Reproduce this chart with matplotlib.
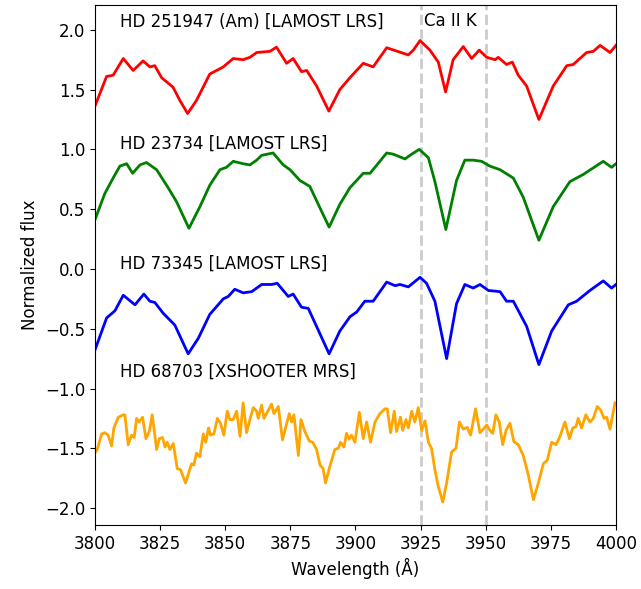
import numpy as np
import matplotlib
matplotlib.use("Agg")
import matplotlib.pyplot as plt

# spectra (already offset vertically)
wl_red = [3800.0, 3804.5, 3807.0, 3810.9, 3814.7, 3818.5, 3821.1, 3823.0, 3825.6, 3830.0,
          3832.6, 3835.6, 3839.0, 3844.1, 3849.3, 3853.1, 3856.9, 3859.5, 3862.1, 3867.2,
          3869.7, 3873.6, 3876.1, 3879.3, 3881.3, 3885.1, 3889.8, 3894.0, 3897.9, 3903.0,
          3906.8, 3912.0, 3920.3, 3922.2, 3924.8, 3928.6, 3931.8, 3934.6, 3937.5, 3941.4,
          3944.6, 3947.5, 3950.4, 3953.6, 3954.8, 3958.0, 3960.2, 3962.5, 3965.7, 3970.4,
          3975.9, 3981.1, 3983.6, 3988.7, 3991.3, 3993.9, 3997.7, 4000.0]
fl_red = [1.36, 1.61, 1.62, 1.76, 1.66, 1.74, 1.69, 1.70, 1.60, 1.52,
          1.41, 1.30, 1.41, 1.63, 1.69, 1.76, 1.75, 1.77, 1.81, 1.82,
          1.855, 1.72, 1.76, 1.65, 1.66, 1.53, 1.32, 1.50, 1.60, 1.72,
          1.69, 1.85, 1.79, 1.83, 1.91, 1.83, 1.73, 1.48, 1.75, 1.86,
          1.76, 1.83, 1.77, 1.75, 1.77, 1.71, 1.73, 1.62, 1.53, 1.25,
          1.53, 1.70, 1.71, 1.81, 1.82, 1.87, 1.81, 1.87]

wl_green = [3800.0, 3803.8, 3807.0, 3809.6, 3812.2, 3814.5, 3817.3, 3819.8, 3823.7, 3828.1,
            3831.4, 3836.1, 3840.3, 3844.1, 3848.0, 3850.5, 3853.1, 3856.9, 3859.5, 3862.1,
            3864.0, 3868.4, 3872.3, 3874.9, 3878.7, 3882.5, 3886.4, 3889.9, 3894.0, 3897.9,
            3903.0, 3905.6, 3912.0, 3914.5, 3919.0, 3921.6, 3924.5, 3928.0, 3930.5, 3934.7,
            3938.8, 3942.0, 3945.2, 3948.4, 3951.6, 3955.5, 3960.6, 3964.4, 3970.4, 3975.9,
            3982.3, 3987.4, 3995.1, 3998.3, 4000.0]
fl_green = [0.41, 0.63, 0.76, 0.86, 0.88, 0.80, 0.87, 0.89, 0.83, 0.68,
            0.56, 0.34, 0.52, 0.70, 0.83, 0.85, 0.90, 0.88, 0.87, 0.91,
            0.95, 0.97, 0.87, 0.83, 0.74, 0.69, 0.51, 0.35, 0.54, 0.68,
            0.80, 0.80, 0.97, 0.96, 0.92, 0.96, 1.00, 0.93, 0.73, 0.33,
            0.74, 0.91, 0.91, 0.90, 0.86, 0.83, 0.76, 0.60, 0.24, 0.52,
            0.73, 0.79, 0.90, 0.85, 0.88]

wl_blue = [3800.0, 3804.5, 3807.7, 3810.9, 3815.4, 3818.8, 3821.1, 3823.0, 3826.2, 3830.7,
           3835.8, 3839.7, 3844.1, 3849.3, 3851.2, 3853.7, 3856.9, 3860.2, 3864.0, 3867.8,
           3870.0, 3874.2, 3876.1, 3879.3, 3881.9, 3885.7, 3889.9, 3894.0, 3897.9, 3900.5,
           3903.6, 3906.8, 3912.0, 3915.2, 3917.1, 3920.3, 3924.8, 3927.3, 3930.5, 3935.0,
           3938.8, 3942.0, 3945.2, 3947.8, 3951.0, 3955.5, 3958.0, 3960.6, 3965.7, 3970.4,
           3975.3, 3981.7, 3984.9, 3990.0, 3995.1, 3998.3, 4000.0]
fl_blue = [-0.68, -0.41, -0.35, -0.22, -0.30, -0.21, -0.27, -0.28, -0.37, -0.47,
           -0.71, -0.58, -0.38, -0.25, -0.23, -0.17, -0.20, -0.19, -0.13, -0.13,
           -0.12, -0.23, -0.21, -0.32, -0.33, -0.51, -0.71, -0.52, -0.40, -0.36,
           -0.27, -0.27, -0.11, -0.14, -0.13, -0.15, -0.07, -0.12, -0.27, -0.75,
           -0.29, -0.13, -0.16, -0.13, -0.18, -0.19, -0.27, -0.27, -0.48, -0.80,
           -0.52, -0.30, -0.27, -0.18, -0.10, -0.16, -0.13]

wl_orange = [3800.0, 3800.9, 3802.6, 3803.8, 3805.1, 3806.4, 3807.3, 3809.0, 3810.9, 3811.5,
             3812.8, 3814.1, 3815.1, 3816.0, 3817.0, 3818.3, 3819.6, 3820.9, 3822.0, 3823.7,
             3824.7, 3826.0, 3826.9, 3827.8, 3828.8, 3830.1, 3831.6, 3832.9, 3834.8, 3835.8,
             3837.1, 3838.0, 3839.0, 3840.3, 3841.6, 3842.6, 3843.6, 3844.4, 3845.7, 3847.0,
             3848.2, 3849.5, 3850.8, 3851.8, 3853.1, 3854.4, 3855.7, 3856.9, 3858.2, 3859.5,
             3860.8, 3862.1, 3862.7, 3864.0, 3864.9, 3865.9, 3867.8, 3868.7, 3870.4, 3872.0,
             3874.6, 3875.5, 3876.4, 3878.1, 3879.1, 3880.6, 3882.3, 3883.6, 3885.1, 3886.4,
             3887.6, 3888.5, 3890.2, 3892.1, 3893.4, 3894.3, 3895.6, 3896.6, 3897.6, 3898.5,
             3899.8, 3901.5, 3903.0, 3904.3, 3905.8, 3907.5, 3909.4, 3911.3, 3912.2, 3913.5,
             3914.9, 3915.8, 3917.3, 3918.1, 3919.4, 3920.3, 3921.6, 3922.8, 3924.1, 3925.4,
             3926.7, 3928.0, 3929.2, 3930.5, 3931.8, 3933.5, 3935.0, 3936.9, 3938.6, 3939.9,
             3941.4, 3942.9, 3944.2, 3946.1, 3947.8, 3949.1, 3950.4, 3951.6, 3952.7, 3953.9,
             3955.2, 3956.5, 3957.8, 3959.3, 3960.8, 3962.5, 3964.4, 3966.3, 3968.3, 3970.2,
             3972.1, 3973.6, 3975.3, 3977.0, 3978.5, 3980.4, 3982.1, 3983.4, 3984.6, 3985.5,
             3986.8, 3988.4, 3990.0, 3991.3, 3992.8, 3994.1, 3995.4, 3996.4, 3997.7, 3999.6]
fl_orange = [-1.54, -1.51, -1.38, -1.37, -1.39, -1.48, -1.33, -1.24, -1.22, -1.22,
             -1.47, -1.39, -1.41, -1.25, -1.28, -1.24, -1.42, -1.36, -1.22, -1.51,
             -1.42, -1.41, -1.49, -1.45, -1.51, -1.46, -1.67, -1.68, -1.79, -1.72,
             -1.63, -1.64, -1.54, -1.57, -1.38, -1.45, -1.33, -1.39, -1.38, -1.25,
             -1.29, -1.39, -1.19, -1.26, -1.26, -1.19, -1.40, -1.12, -1.37, -1.26,
             -1.16, -1.19, -1.25, -1.14, -1.25, -1.21, -1.13, -1.21, -1.15, -1.43,
             -1.21, -1.28, -1.22, -1.56, -1.26, -1.36, -1.44, -1.45, -1.51, -1.64,
             -1.67, -1.79, -1.65, -1.51, -1.50, -1.45, -1.49, -1.375, -1.425, -1.39,
             -1.45, -1.20, -1.42, -1.28, -1.45, -1.28, -1.21, -1.17, -1.17, -1.37,
             -1.19, -1.36, -1.24, -1.35, -1.26, -1.33, -1.19, -1.28, -1.16, -1.35,
             -1.27, -1.45, -1.50, -1.68, -1.82, -1.95, -1.79, -1.53, -1.50, -1.28,
             -1.34, -1.325, -1.39, -1.17, -1.37, -1.34, -1.305, -1.35, -1.375, -1.22,
             -1.28, -1.47, -1.35, -1.29, -1.445, -1.47, -1.56, -1.72, -1.93, -1.79,
             -1.63, -1.60, -1.45, -1.47, -1.40, -1.28, -1.42, -1.33, -1.32, -1.25,
             -1.33, -1.22, -1.28, -1.25, -1.15, -1.18, -1.25, -1.24, -1.34, -1.12]

labels = ["HD 251947 (Am) [LAMOST LRS]", "HD 23734 [LAMOST LRS]",
          "HD 73345 [LAMOST LRS]", "HD 68703 [XSHOOTER MRS]"]
label_y = [2.07, 1.05, 0.04, -0.86]
colors = ["red", "green", "blue", "orange"]
ca_lines = [3925, 3950]

fig = plt.figure(figsize=(6.41, 5.89), dpi=100)
ax = fig.add_axes([0.148, 0.109, 0.813, 0.883])

for x in ca_lines:
    ax.axvline(x, color="#cccccc", ls="--", lw=2, zorder=1)

spectra = [(wl_red, fl_red), (wl_green, fl_green), (wl_blue, fl_blue), (wl_orange, fl_orange)]
for (w, f), c in zip(spectra, colors):
    ax.plot(w, f, color=c, lw=2, zorder=2)

for lab, y in zip(labels, label_y):
    ax.text(3809.8, y, lab, fontsize=12, va="center")
ax.text(3926.2, label_y[0], "Ca II K", fontsize=12, va="center")

ax.set_xlim(3800, 4000)
ax.set_ylim(-2.14, 2.21)
ax.set_xticks(np.arange(3800, 4001, 25))
ax.set_yticks(np.arange(-2.0, 2.01, 0.5))
ax.tick_params(labelsize=12)
ax.set_xlabel("Wavelength (Å)", fontsize=12)
ax.set_ylabel("Normalized flux", fontsize=12)

fig.savefig("out.png", dpi=100)
